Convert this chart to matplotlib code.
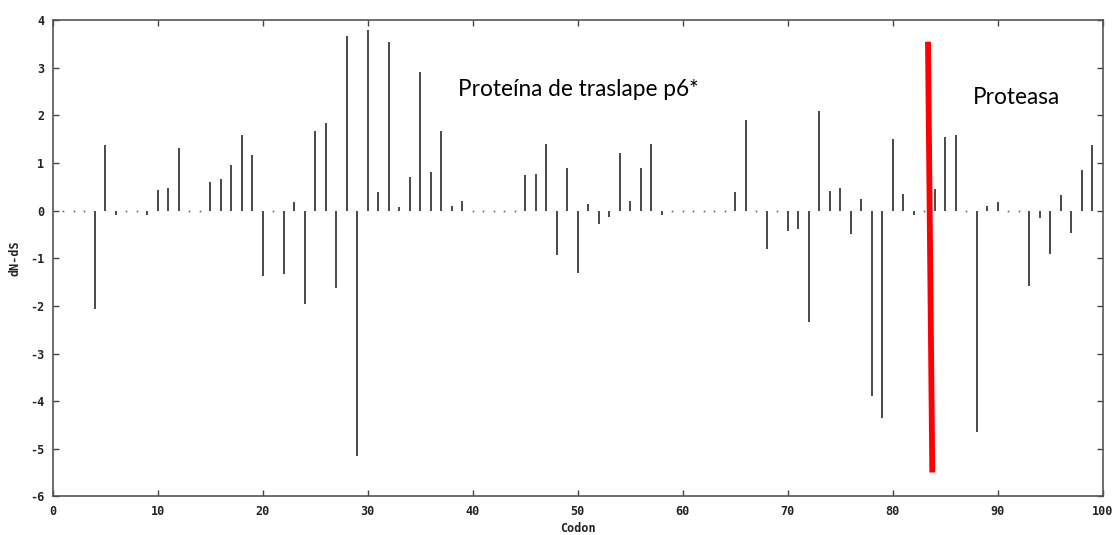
import numpy as np
import matplotlib
matplotlib.use('Agg')
import matplotlib.pyplot as plt

# dN-dS per codon
codons = np.arange(1, 100)
dnds = [0, 0, 0, -2.07, 1.39, -0.10, 0, 0, -0.08, 0.43,
        0.48, 1.32, 0, 0, 0.60, 0.67, 0.96, 1.58, 1.16, -1.38,
        0, -1.33, 0.18, -1.97, 1.67, 1.84, -1.62, 3.66, -5.15, 3.80,
        0.39, 3.54, 0.08, 0.70, 2.92, 0.82, 1.67, 0.10, 0.20, 0,
        0, 0, 0, 0, 0.75, 0.77, 1.41, -0.93, 0.89, -1.31,
        0.15, -0.27, -0.13, 1.22, 0.20, 0.89, 1.41, -0.10, 0, 0,
        0, 0, 0, 0, 0.39, 1.91, 0, -0.81, 0, -0.43,
        -0.39, -2.34, 2.10, 0.41, 0.48, -0.48, 0.25, -3.89, -4.36, 1.51,
        0.35, -0.08, 0, 0.46, 1.54, 1.58, 0, -4.64, 0.10, 0.18,
        0, 0, -1.59, -0.15, -0.90, 0.32, -0.46, 0.86, 1.39]
dnds = np.array(dnds)

# boundary between p6* and protease (hand drawn red line)
boundary_x = [83.36, 83.77]
boundary_y = [3.55, -5.50]

xticks = list(range(0, 101, 10))
yticks = list(range(-6, 5))

fig = plt.figure(figsize=(11.17, 5.35), dpi=100)
ax = fig.add_axes([0.0472, 0.0723, 0.94, 0.8898])

ax.vlines(codons, 0, dnds, color='#3a3a3a', lw=1.3)
zero = dnds == 0
ax.plot(codons[zero], dnds[zero], 's', color='#555555', ms=1.1, mew=0)

ax.plot(boundary_x, boundary_y, color='#ff0000', lw=4.2, solid_capstyle='butt')

ax.text(38.6, 2.54, 'Proteína de traslape p6*', fontsize=16.3, family='Lato',
        va='center', ha='left', color='black')
ax.text(87.6, 2.37, 'Proteasa', fontsize=16.3, family='Lato',
        va='center', ha='left', color='black')

ax.set_xlim(0, 100)
ax.set_ylim(-6, 4)
ax.set_xticks(xticks)
ax.set_yticks(yticks)

tick_font = dict(family='DejaVu Sans Mono', weight='bold', size=8.5)
ax.set_xticklabels([str(t) for t in xticks], **tick_font, color='#222222')
ax.set_yticklabels([str(t) for t in yticks], **tick_font, color='#222222')
ax.tick_params(direction='in', length=4, width=1, color='#444444',
               top=True, right=True, pad=6)

for s in ax.spines.values():
    s.set_color('#555555')
    s.set_linewidth(1.2)

ax.set_xlabel('Codon', family='DejaVu Sans Mono', weight='bold', size=8.5,
              color='#222222', labelpad=3)
ax.set_ylabel('dN-dS', family='DejaVu Sans Mono', weight='bold', size=8.5,
              color='#222222', labelpad=6)

fig.savefig('out.png', dpi=100)
